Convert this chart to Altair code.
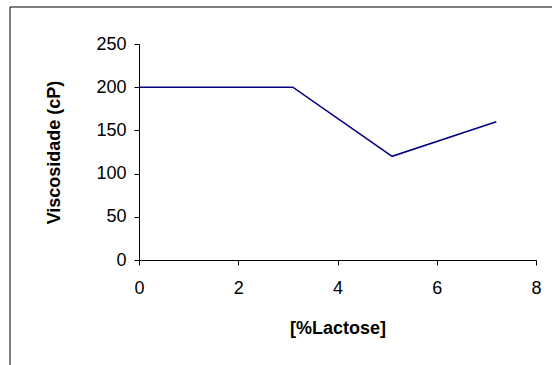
import altair as alt
import pandas as pd

lactose = [0, 3.1, 5.1, 7.2]
viscosidade = [200, 200, 120, 160]

df = pd.DataFrame({"lactose": lactose, "visc": viscosidade})

frame = alt.Chart(alt.Data(values=[{}])).mark_rect(
    fillOpacity=0, stroke="black", strokeWidth=1
).encode(
    x=alt.value(-129), x2=alt.value(430),
    y=alt.value(-37), y2=alt.value(340)
)

line = alt.Chart(df).mark_line(color="#000080", strokeWidth=1.6).encode(
    x=alt.X("lactose:Q",
            scale=alt.Scale(domain=[0, 8], nice=False),
            axis=alt.Axis(values=[0, 2, 4, 6, 8], title="[%Lactose]",
                          labelPadding=14, titlePadding=22)),
    y=alt.Y("visc:Q",
            scale=alt.Scale(domain=[0, 250], nice=False),
            axis=alt.Axis(values=[0, 50, 100, 150, 200, 250],
                          title="Viscosidade (cP)",
                          labelPadding=8, titlePadding=32)),
)

chart = alt.layer(frame, line).properties(
    width=397, height=216,
    background="white",
    autosize=alt.AutoSizeParams(type="none"),
    padding={"left": 139, "top": 44, "right": 16, "bottom": 105},
).configure_view(stroke=None).configure_axis(
    grid=False,
    domainColor="black",
    tickColor="black",
    tickSize=5,
    labelFlush=False,
    labelFont="Liberation Sans",
    labelFontSize=18,
    labelColor="black",
    titleFont="Liberation Sans",
    titleFontSize=18,
    titleFontWeight="bold",
    titleColor="black",
)

chart.save("out.html", embed_options={"renderer": "svg", "actions": False})
